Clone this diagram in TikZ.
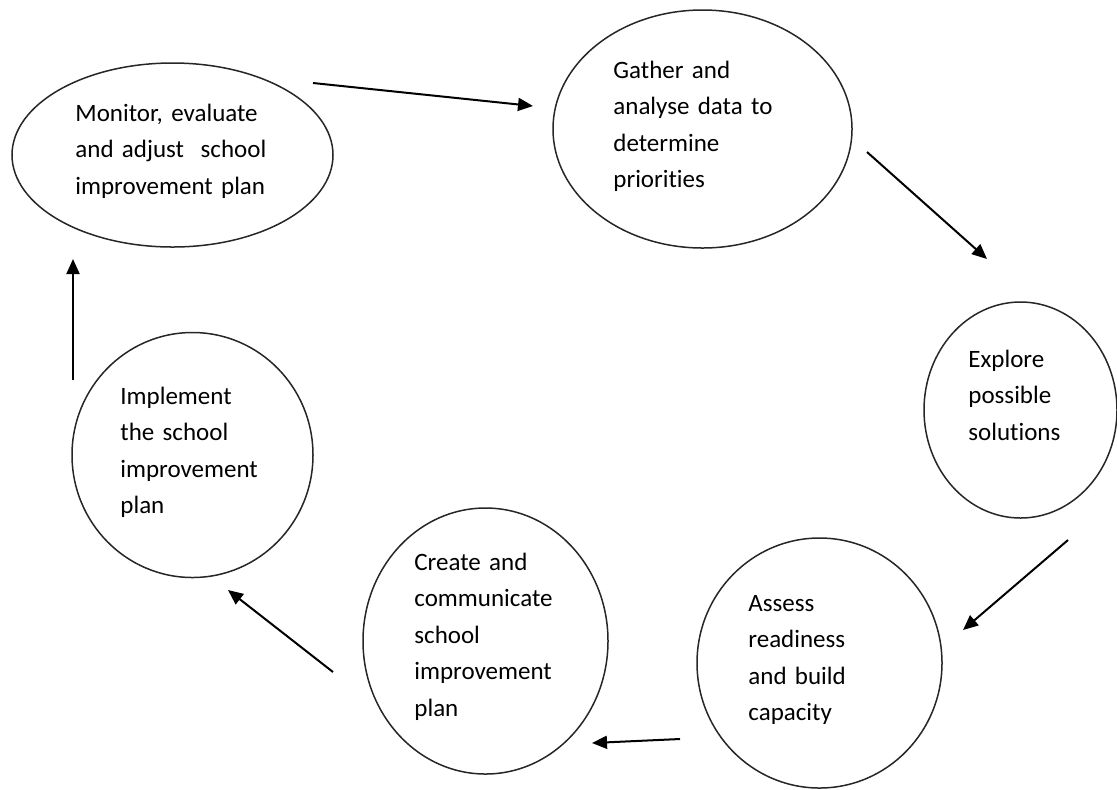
\documentclass[tikz,border=0pt]{standalone}
\usepackage{fontspec}
\setmainfont{Carlito}[Ligatures={NoCommon,NoContextual}]
\usetikzlibrary{shapes.geometric,arrows.meta}

\begin{document}
\begin{tikzpicture}[x=0.5pt,y=-0.5pt,
  stage/.style={draw=black!85,line width=0.75pt,ellipse,inner sep=0pt},
  words/.style={anchor=base west,align=left,text width=110pt,inner sep=0pt,
    font=\fontsize{12.5}{18.25}\selectfont},
  flow/.style={-{Triangle[length=7.5pt,width=6.5pt]},line width=1pt}]
\useasboundingbox (0,0) rectangle (1117,789);
% the six stages
\node[stage,minimum width=160.5pt,minimum height=92pt] (monitor) at (172.5,155) {};
\node[stage,minimum width=149.5pt,minimum height=119pt] (gather) at (702.5,129) {};
\node[stage,minimum width=96.5pt,minimum height=108pt] (explore) at (1020.5,410) {};
\node[stage,minimum width=122.5pt,minimum height=125pt] (assess) at (819.5,663) {};
\node[stage,minimum width=122.5pt,minimum height=133pt] (create) at (485.5,641) {};
\node[stage,minimum width=120.5pt,minimum height=122.5pt] (implement) at (192.5,455) {};
% texts
\node[words] (monitor-t) at (75,121) {Monitor, evaluate\\and adjust\ \ school\\improvement plan};
\node[words] (gather-t) at (613,78) {Gather and\\analyse data to\\determine\\priorities};
\node[words] (explore-t) at (968,367) {Explore\\possible\\solutions};
\node[words] (assess-t) at (748,611) {Assess\\readiness\\and build\\capacity};
\node[words] (create-t) at (414,570) {Create and\\communicate\\school\\improvement\\plan};
\node[words] (implement-t) at (120,404) {Implement\\the school\\improvement\\plan};
% arrow ends
\coordinate (mg-a) at (313,83);
\coordinate (mg-b) at (533,106);
\coordinate (ge-a) at (867,152);
\coordinate (ge-b) at (987,259);
\coordinate (ea-a) at (1068,540);
\coordinate (ea-b) at (963,630);
\coordinate (ac-a) at (680,739);
\coordinate (ac-b) at (592,743);
\coordinate (ci-a) at (333,672);
\coordinate (ci-b) at (228,590);
\coordinate (im-a) at (73,380);
\coordinate (im-b) at (73,259);
\draw[flow] (mg-a) -- (mg-b);
\draw[flow] (ge-a) -- (ge-b);
\draw[flow] (ea-a) -- (ea-b);
\draw[flow] (ac-a) -- (ac-b);
\draw[flow] (ci-a) -- (ci-b);
\draw[flow] (im-a) -- (im-b);
\end{tikzpicture}
\end{document}
